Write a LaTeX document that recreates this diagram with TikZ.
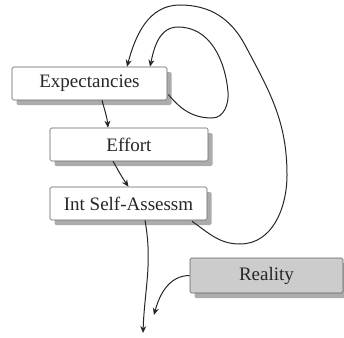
\documentclass[tikz,border=0pt]{standalone}
\usepackage{fontspec}
\setmainfont{Liberation Serif}
\usetikzlibrary{shadows,calc,arrows.meta}
\begin{document}
\begin{tikzpicture}[x=1pt,y=-1pt,
  box/.style={draw=gray!75!black, line width=0.6pt, rounded corners=1.5pt, fill=white,
    inner sep=0pt, minimum height=33pt, text=black!85,
    font=\fontsize{19}{21}\selectfont,
    drop shadow={shadow xshift=4.5pt, shadow yshift=-5pt, fill=gray!65, opacity=1}},
  gbox/.style={box, fill=gray!40},
  conn/.style={draw=black!85, line width=1pt, -{Stealth[length=7pt,width=6pt]}}]
\useasboundingbox (0,0) rectangle (344,337);
\node[box, minimum width=155pt] (exp) at (89.5,83.5) {Expectancies};
\node[box, minimum width=158pt] (eff) at (129,144.5) {Effort};
\node[box, minimum width=157pt] (isa) at (128.5,203.5) {Int Self-Assessm};
\node[gbox, minimum width=153pt, minimum height=35pt] (real) at (266.5,275.5) {Reality};
\coordinate (out) at (143,333);
\coordinate (rend) at (154,315);
\draw[conn] ($(exp.south)+(12.5,0)$) to[out=-75,in=95] ($(eff.north)+(-21,0)$);
\draw[conn] ($(eff.south)+(-16,0)$) to[out=-60,in=125] (isa.north);
\draw[conn] ($(isa.south)+(16.5,0)$) to[out=-80,in=88] (out);
\draw[conn] (real.west) to[out=180,in=75] (rend);
\draw[conn] ($(exp.east)+(1,11)$) to[out=-50,in=180] (212,118)
  to[out=0,in=-85] (228,92) to[out=95,in=0] (178,27) to[out=180,in=78] ($(exp.north)+(60.5,0)$);
\draw[conn] ($(isa.south)+(63.5,1)$) to[out=-35,in=180] (240,244)
  to[out=0,in=-90] (287,175) to[out=90,in=-62] (245,45)
  to[out=118,in=0] (180,5) to[out=180,in=75] ($(exp.north)+(37.5,0)$);
\end{tikzpicture}
\end{document}
